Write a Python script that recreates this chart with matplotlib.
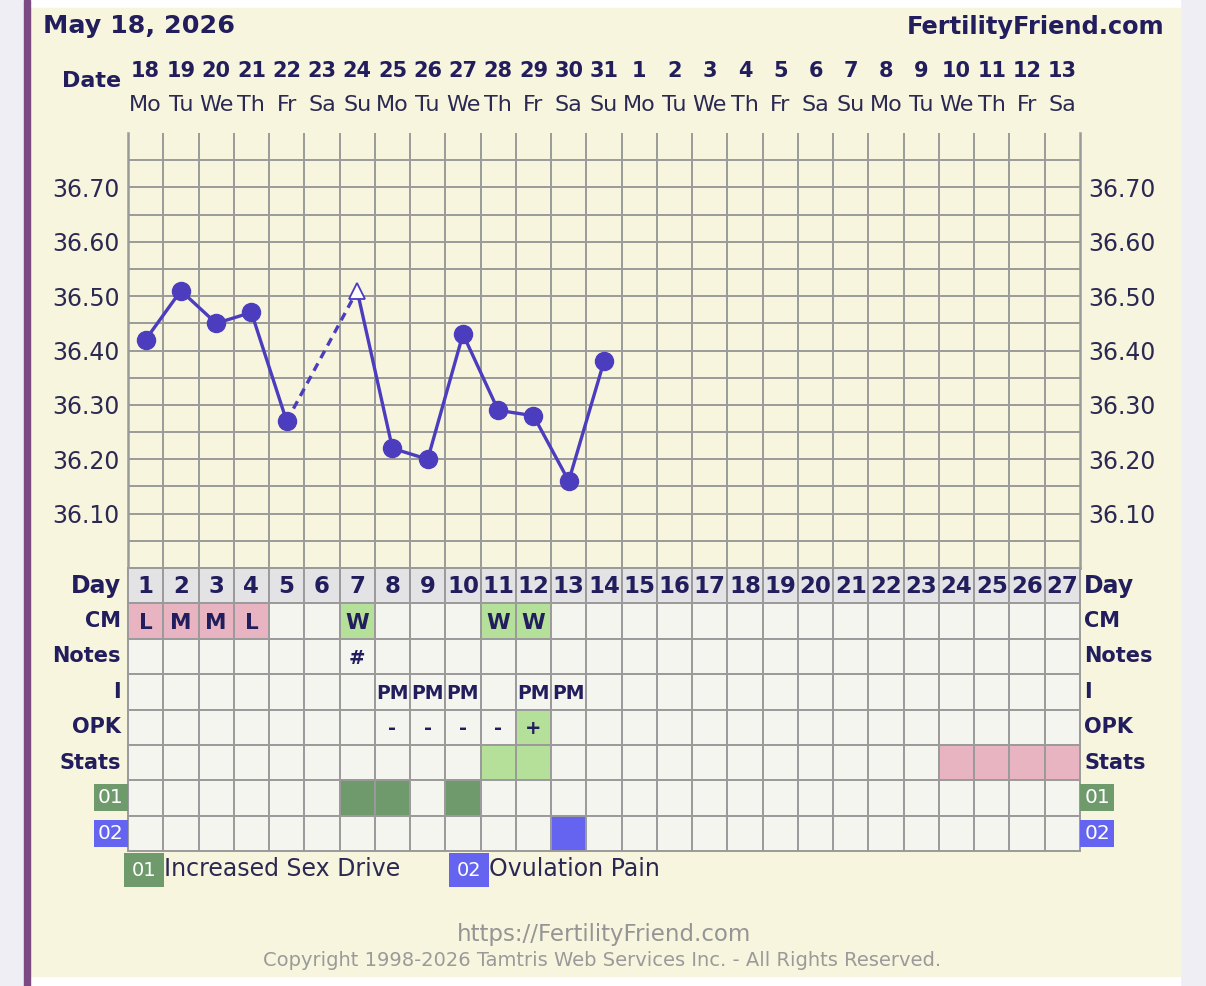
import numpy as np
import matplotlib
matplotlib.use("Agg")
import matplotlib.pyplot as plt
from matplotlib.patches import Rectangle

# ---- data ----
days = np.arange(1, 28)
dates = [18, 19, 20, 21, 22, 23, 24, 25, 26, 27, 28, 29, 30, 31,
         1, 2, 3, 4, 5, 6, 7, 8, 9, 10, 11, 12, 13]
weekdays = ["Mo", "Tu", "We", "Th", "Fr", "Sa", "Su"] * 3 + ["Mo", "Tu", "We", "Th", "Fr", "Sa"]

temp_days = np.array([1, 2, 3, 4, 5, 7, 8, 9, 10, 11, 12, 13, 14])
temps = np.array([36.42, 36.51, 36.45, 36.47, 36.27, 36.51, 36.22, 36.20,
                  36.43, 36.29, 36.28, 36.16, 36.38])
open_day = 7            # discarded temp, open triangle
ytick_vals = [36.10, 36.20, 36.30, 36.40, 36.50, 36.60, 36.70]

cm = ["L", "M", "M", "L", "", "", "W", "", "", "", "W", "W"] + [""] * 15
notes = [""] * 6 + ["#"] + [""] * 20
intercourse = [""] * 7 + ["PM", "PM", "PM", "", "PM", "PM"] + [""] * 14
opk = [""] * 7 + ["-", "-", "-", "-", "+"] + [""] * 15
stats = [""] * 10 + ["g", "g"] + [""] * 11 + ["p", "p", "p", "p"]
sym01 = [0] * 6 + [1, 1, 0, 1] + [0] * 17
sym02 = [0] * 12 + [1] + [0] * 14

row_names = ["Day", "CM", "Notes", "I", "OPK", "Stats", "01", "02"]

# ---- colours ----
cream = "#f7f5de"
cell = "#f5f5f0"
dayrow = "#e3e3e5"
gridc = "#9a9a9a"
navy = "#221d5c"
ink = "#2b2952"
line_c = "#4b3dbd"
pink = "#e8b4c2"
lgreen = "#b4e09a"
dgreen = "#6f9a6c"
blue = "#6464f0"

W, H = 1206, 986
fig = plt.figure(figsize=(W / 100, H / 100), dpi=100)
fig.patch.set_facecolor("#efeef4")

# background / page furniture in pixel coords
bg = fig.add_axes([0, 0, 1, 1], zorder=-5)
bg.set_xlim(0, W)
bg.set_ylim(H, 0)
bg.axis("off")
bg.add_patch(Rectangle((30, 0), 1150, H, color="white"))
bg.add_patch(Rectangle((30, 8), 1150, 968, color=cream))
bg.add_patch(Rectangle((24, 0), 6, H, color="#7a4a80"))
bg.text(43, 26, "May 18, 2026", fontsize=18.3, fontweight="bold", color=navy, va="center")
bg.text(1164, 27, "FertilityFriend.com", fontsize=17.3, fontweight="bold", color=navy,
        va="center", ha="right")
bg.text(121, 81, "Date", fontsize=16, fontweight="bold", color=navy, va="center", ha="right")

# legend
bg.text(144, 870, "01", fontsize=14, color="white", ha="center", va="center",
        bbox=dict(boxstyle="square,pad=0.4", fc=dgreen, ec="none"))
bg.text(164, 869, "Increased Sex Drive", fontsize=17, color=ink, va="center")
bg.text(469, 870, "02", fontsize=14, color="white", ha="center", va="center",
        bbox=dict(boxstyle="square,pad=0.4", fc=blue, ec="none"))
bg.text(489, 869, "Ovulation Pain", fontsize=17, color=ink, va="center")

# footer
bg.text(604, 934, "https://FertilityFriend.com", fontsize=16.5, color="#959595",
        ha="center", va="center")
bg.text(602, 961, "Copyright 1998-2026 Tamtris Web Services Inc. - All Rights Reserved.",
        fontsize=14, color="#9a9a9a", ha="center", va="center")

# ---- temperature axes ----
L, R = 128, 1080
ax = fig.add_axes([L / W, 1 - 568 / H, (R - L) / W, 435 / H])
ax.set_facecolor(cream)
ax.set_xlim(0.5, 27.5)
ax.set_ylim(36.0, 36.8)
ax.set_xticks(days)
ax.set_xticks(np.arange(1.5, 27.5, 1), minor=True)
ax.set_yticks(ytick_vals)
ax.set_yticklabels([f"{v:.2f}" for v in ytick_vals])
ax.set_yticks(np.arange(36.05, 36.76, 0.1), minor=True)
ax.tick_params(axis="x", which="both", length=0, labelbottom=False)
ax.tick_params(axis="y", which="both", length=0, labelleft=True, labelright=True,
               labelsize=17, labelcolor=ink, pad=6)
ax.grid(True, which="minor", axis="x", color=gridc, lw=1.4)
ax.grid(True, which="both", axis="y", color=gridc, lw=1.4)
ax.set_axisbelow(True)
for s in ["left", "right", "bottom"]:
    ax.spines[s].set_color(gridc)
    ax.spines[s].set_linewidth(1.8)
ax.spines["top"].set_visible(False)

xt = ax.get_xaxis_transform()
for d, dt, wd in zip(days, dates, weekdays):
    ax.text(d, 1.143, str(dt), transform=xt, ha="center", va="center",
            fontsize=15, fontweight="bold", color=navy, clip_on=False)
    ax.text(d, 1.065, wd, transform=xt, ha="center", va="center",
            fontsize=16, color=ink, clip_on=False)

# temperature line
i_open = list(temp_days).index(open_day)
ax.plot(temp_days[:i_open], temps[:i_open], color=line_c, lw=2.4, zorder=3)
ax.plot(temp_days[i_open - 1:i_open + 1], temps[i_open - 1:i_open + 1], color=line_c,
        lw=2.4, dashes=(2.5, 1.8), zorder=3)
ax.plot(temp_days[i_open:], temps[i_open:], color=line_c, lw=2.4, zorder=3)
closed = temp_days != open_day
ax.plot(temp_days[closed], temps[closed], "o", color=line_c, ms=13, zorder=4)
ax.plot(temp_days[~closed], temps[~closed], "^", mfc="white", mec=line_c, mew=1.3,
        ms=12, zorder=4)

# ---- table axes ----
tb = fig.add_axes([L / W, 1 - 851 / H, (R - L) / W, 283 / H])
tb.set_xlim(0.5, 27.5)
tb.set_ylim(8, 0)
tb.axis("off")

def row_colors(vals, fn):
    return [fn(v) for v in vals]

rows_fill = [
    [dayrow] * 27,
    row_colors(cm, lambda v: pink if v in ("L", "M") else (lgreen if v == "W" else cell)),
    [cell] * 27,
    [cell] * 27,
    row_colors(opk, lambda v: lgreen if v == "+" else cell),
    row_colors(stats, lambda v: lgreen if v == "g" else (pink if v == "p" else cell)),
    row_colors(sym01, lambda v: dgreen if v else cell),
    row_colors(sym02, lambda v: blue if v else cell),
]
for r, cols in enumerate(rows_fill):
    tb.bar(days, 1, bottom=r, width=1, color=cols, edgecolor=gridc, lw=1.4, clip_on=False)

for d in days:
    tb.text(d, 0.52, str(d), ha="center", va="center", fontsize=16.5,
            fontweight="bold", color=navy)
for r, vals, fs in [(1, cm, 15.5), (2, notes, 14), (3, intercourse, 13.5), (4, opk, 14)]:
    for d, v in zip(days, vals):
        if v:
            tb.text(d, r + 0.55, v, ha="center", va="center", fontsize=fs,
                    fontweight="bold", color=navy)

for r, name in enumerate(row_names):
    if name in ("01", "02"):
        fc = dgreen if name == "01" else blue
        for x, ha in [(0.5 - 0.12, "right"), (27.5 + 0.12, "left")]:
            tb.text(x, r + 0.5, name, ha=ha, va="center", fontsize=14.5, color="white",
                    bbox=dict(boxstyle="square,pad=0.2", fc=fc, ec="none"))
    else:
        fs = 17 if name == "Day" else 15
        tb.text(0.5 - 0.2, r + 0.5, name, ha="right", va="center", fontsize=fs,
                fontweight="bold", color=navy)
        tb.text(27.5 + 0.12, r + 0.5, name, ha="left", va="center", fontsize=fs,
                fontweight="bold", color=navy)

fig.savefig("out.png", dpi=100, facecolor=fig.get_facecolor())
